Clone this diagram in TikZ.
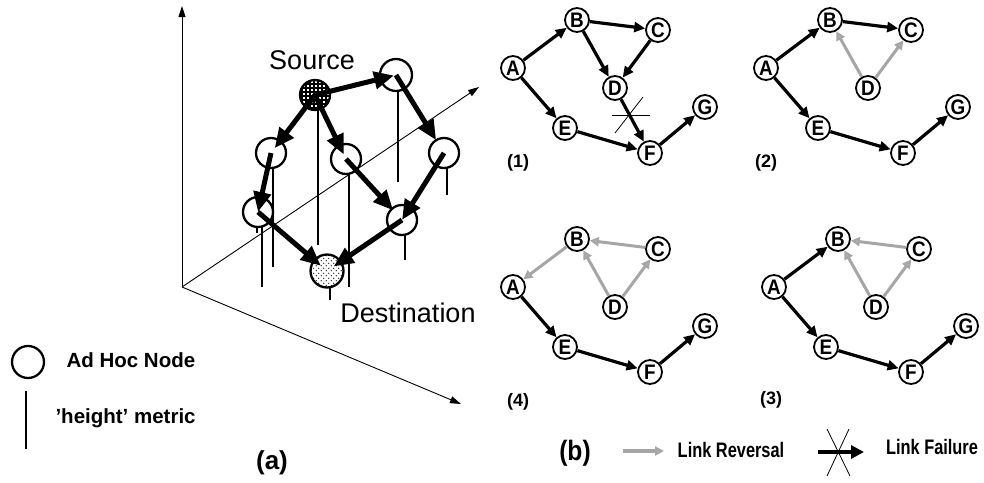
\documentclass[tikz,border=0pt]{standalone}
\usepackage{fontspec}
\usepackage{graphicx}
\setmainfont{Liberation Sans}
\usetikzlibrary{arrows.meta,patterns,patterns.meta}
\tikzdeclarepattern{
  name=srcgrid,
  type=uncolored,
  bounding box={(-.1pt,-.1pt) and (4.1pt,4.1pt)},
  tile size={(4pt,4pt)},
  code={\draw[line width=1.1pt] (0pt,2pt) -- (4pt,2pt); \draw[line width=1.1pt] (2pt,0pt) -- (2pt,4pt);}
}
\tikzdeclarepattern{
  name=dstdots,
  type=uncolored,
  bounding box={(-.1pt,-.1pt) and (5.1pt,5.1pt)},
  tile size={(5pt,5pt)},
  code={\fill (1.25pt,1.25pt) circle (0.6pt); \fill (3.75pt,3.75pt) circle (0.6pt);}
}
\newcommand{\nx}[1]{\scalebox{0.9}[1]{#1}}
\tikzset{
  axisline/.style={line width=0.9pt,-{Triangle[length=11pt,width=7pt]}},
  hline/.style={line width=1.1pt},
  anode/.style={circle,draw,line width=2.3pt,fill=white,minimum size=30pt,inner sep=0pt},
  bigarr/.style={line width=5pt,-{Triangle[length=20pt,width=17pt]}},
  bnode/.style={circle,draw,line width=1.8pt,fill=white,minimum size=24pt,inner sep=0pt,
    font=\bfseries\fontsize{21}{21}\selectfont},
  barr/.style={line width=3.2pt,-{Triangle[length=11pt,width=10pt]}},
  garr/.style={draw=black!35,line width=3pt,-{Triangle[length=9pt,width=9pt,fill=black!25]}},
  plabel/.style={font=\bfseries\fontsize{18}{18}\selectfont},
  bigtext/.style={font=\fontsize{27}{27}\selectfont},
  legtext/.style={font=\bfseries\fontsize{20.5}{20.5}\selectfont,anchor=west},
}
\newcommand{\mkpanel}[3]{%
  \begin{scope}[shift={(#2,#3)}]
    \node[bnode] (#1A) at (513,68) {\nx{A}};
    \node[bnode] (#1B) at (577,20) {\nx{B}};
    \node[bnode] (#1C) at (658,30) {\nx{C}};
    \node[bnode] (#1D) at (615,88) {\nx{D}};
    \node[bnode] (#1E) at (565,128) {\nx{E}};
    \node[bnode] (#1F) at (650,153) {\nx{F}};
    \node[bnode] (#1G) at (705,107) {\nx{G}};
  \end{scope}}
\begin{document}
\begin{tikzpicture}[x=1pt,y=-1pt]
\useasboundingbox (0,0) rectangle (984,482);
% ---------- part (a): axes ----------
\coordinate (O) at (182,287);
\coordinate (Yt) at (182,6);
\coordinate (Dt) at (479,87);
\coordinate (Xt) at (461,404);
\draw[axisline] (O) -- (Yt);
\draw[axisline] (O) -- (Dt);
\draw[axisline] (O) -- (Xt);
% height lines
\draw[hline] (318,95) -- (318,245);
\draw[hline] (398,75) -- (398,182);
\draw[hline] (447,153) -- (447,195);
\draw[hline] (349,159) -- (349,287);
\draw[hline] (273,153) -- (273,267);
\draw[hline] (262,212) -- (262,287);
\draw[hline] (257,212) -- (257,233);
\draw[hline] (405,220) -- (405,260);
\draw[hline] (330,271) -- (330,300);
% nodes
\node[anode,preaction={fill=white},pattern=srcgrid] (S) at (315,95) {};
\node[anode,minimum size=32pt] (TR) at (396,75) {};
\node[anode] (LU) at (271,153) {};
\node[anode] (M) at (346,159) {};
\node[anode] (R) at (444,153) {};
\node[anode] (LL) at (258,212) {};
\node[anode] (RL) at (402,220) {};
\node[anode,minimum size=33pt,preaction={fill=white},pattern=dstdots] (Dn) at (327,271) {};
% arrows
\draw[bigarr,shorten >=2pt] (S.center) -- (TR.center);
\draw[bigarr,shorten >=15pt] (TR.center) -- (R.center);
\draw[bigarr,shorten >=6pt] (S.center) -- (LU.center);
\draw[bigarr,shorten >=5pt] (S.center) -- (M.center);
\draw[bigarr] (LU.center) -- (LL.center);
\draw[bigarr,shorten >=13pt] (M.center) -- (RL.center);
\draw[bigarr] (R.center) -- (RL.center);
\draw[bigarr,shorten >=8pt] (LL.center) -- (Dn.center);
\draw[bigarr,shorten >=8pt] (RL.center) -- (Dn.center);
% labels
\node[bigtext] (srct) at (312,60) {Source};
\node[bigtext] (dstt) at (408,313) {Destination};
% legend (a)
\node[circle,draw,line width=2.3pt,minimum size=32pt,inner sep=0pt] (legc) at (28,362) {};
\node[legtext] (legct) at (63,360) {Ad Hoc Node};
\coordinate (legl1) at (26,391);
\coordinate (legl2) at (26,449);
\draw[hline] (legl1) -- (legl2);
\node[legtext] (leglt) at (52,418) {’height’ metric};
\node[font=\bfseries\fontsize{26}{26}\selectfont] (capa) at (272,463) {(a)};
% ---------- part (b) ----------
\mkpanel{p}{0}{0}
\mkpanel{q}{253}{0}
\mkpanel{r}{261}{219}
\mkpanel{s}{0}{219}
% panel 1
\draw[barr] (pA) -- (pB);
\draw[barr] (pB) -- (pC);
\draw[barr] (pA) -- (pE);
\draw[barr] (pB) -- (pD);
\draw[barr] (pC) -- (pD);
\draw[barr] (pD) -- (pF);
\draw[barr] (pE) -- (pF);
\draw[barr] (pF) -- (pG);
\draw[line width=0.8pt] (612,115) -- (650,115);
\draw[line width=0.8pt] (615,133) -- (643,97);
% panel 2
\draw[barr] (qA) -- (qB);
\draw[barr] (qB) -- (qC);
\draw[barr] (qA) -- (qE);
\draw[barr] (qE) -- (qF);
\draw[barr] (qF) -- (qG);
\draw[garr] (qD) -- (qB);
\draw[garr] (qD) -- (qC);
% panel 3
\draw[barr] (rA) -- (rB);
\draw[barr] (rA) -- (rE);
\draw[barr] (rE) -- (rF);
\draw[barr] (rF) -- (rG);
\draw[garr] (rC) -- (rB);
\draw[garr] (rD) -- (rB);
\draw[garr] (rD) -- (rC);
% panel 4
\draw[barr] (sA) -- (sE);
\draw[barr] (sE) -- (sF);
\draw[barr] (sF) -- (sG);
\draw[garr] (sB) -- (sA);
\draw[garr] (sC) -- (sB);
\draw[garr] (sD) -- (sB);
\draw[garr] (sD) -- (sC);
% panel labels
\node[plabel] (l1) at (518,163) {(1)};
\node[plabel] (l2) at (766,163) {(2)};
\node[plabel] (l3) at (771,400) {(3)};
\node[plabel] (l4) at (518,402) {(4)};
% legend (b)
\node[font=\bfseries\fontsize{28}{28}\selectfont] (capb) at (575,453) {\scalebox{0.88}[1]{(b)}};
\coordinate (lr1) at (623,451);
\coordinate (lr2) at (664,451);
\draw[garr,line width=4pt] (lr1) -- (lr2);
\node[font=\bfseries\fontsize{21}{21}\selectfont] (lrt) at (731,450) {\scalebox{0.78}[1]{Link Reversal}};
\coordinate (lf1) at (818,452);
\coordinate (lf2) at (864,452);
\draw[line width=4.5pt,-{Triangle[length=13pt,width=13pt]}] (lf1) -- (lf2);
\draw[line width=0.8pt] (827,476) -- (849,429);
\draw[line width=0.8pt] (827,429) -- (850,476);
\node[font=\bfseries\fontsize{21}{21}\selectfont] (lft) at (932,447) {\scalebox{0.78}[1]{Link Failure}};
\end{tikzpicture}
\end{document}
